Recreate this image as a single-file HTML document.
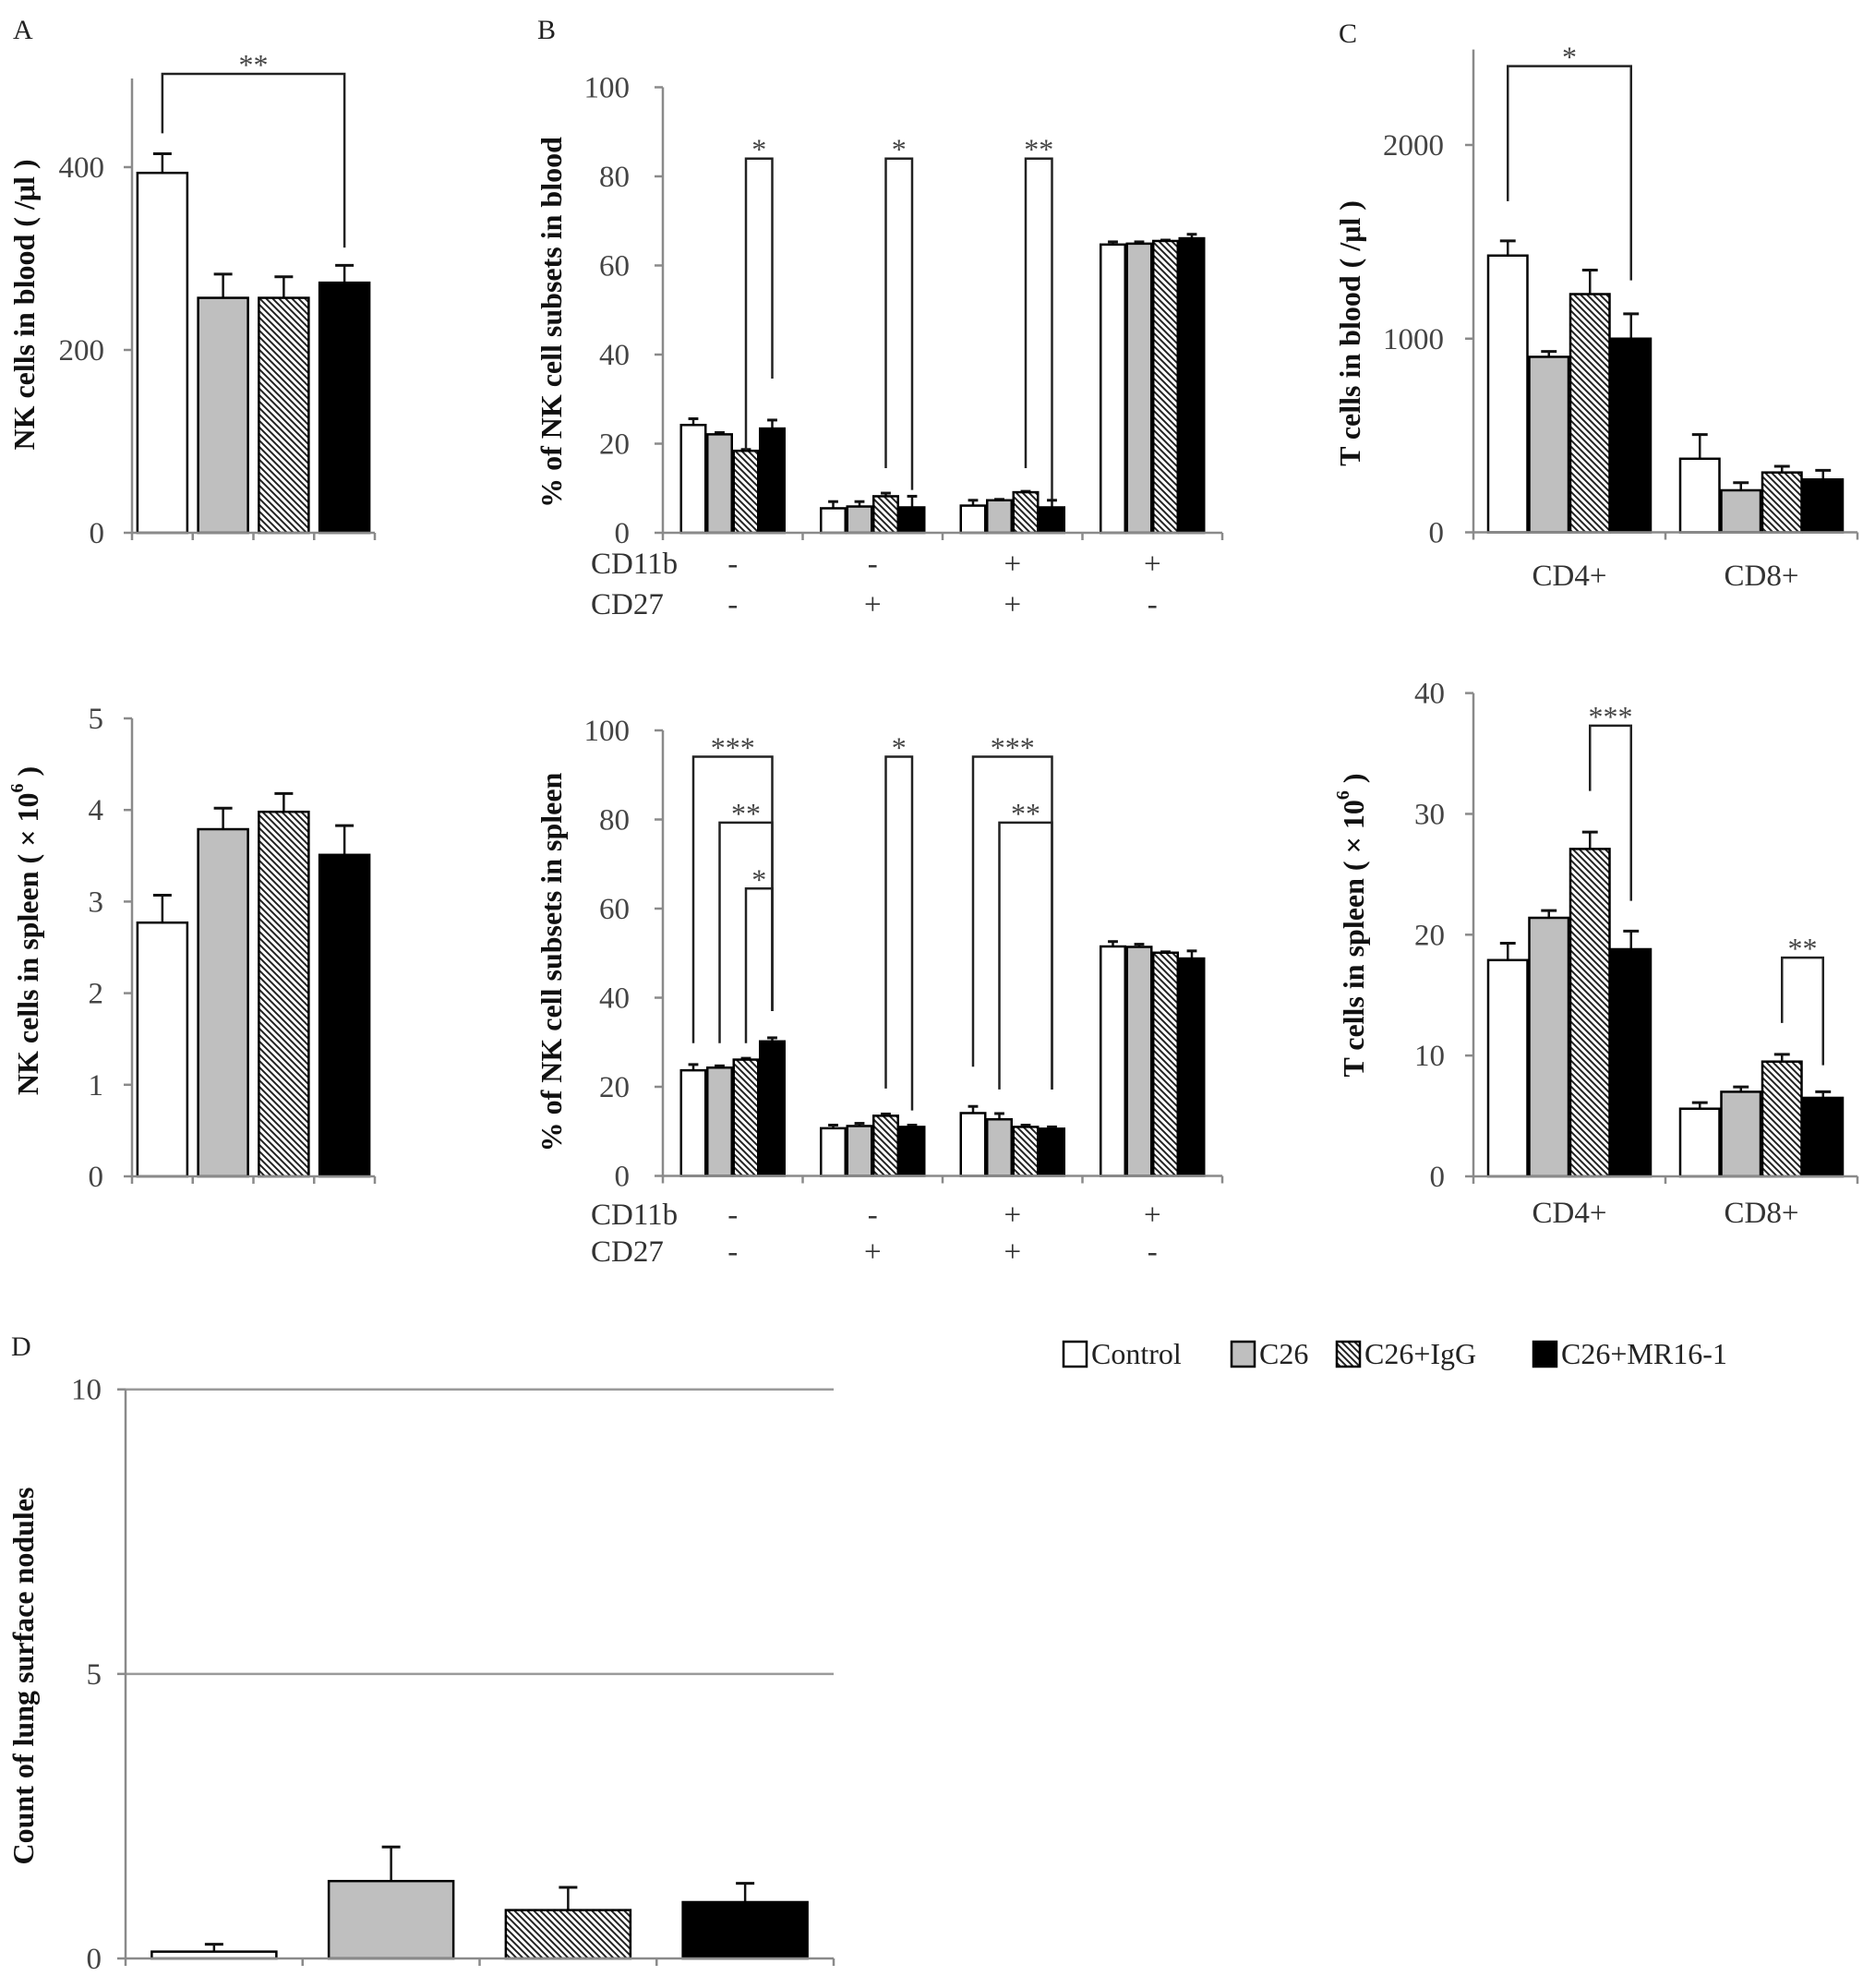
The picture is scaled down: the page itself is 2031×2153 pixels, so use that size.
<!DOCTYPE html>
<html><head><meta charset="utf-8"><style>
html,body{margin:0;padding:0;background:#fff;}
svg{display:block;font-family:"Liberation Serif",serif;}
</style></head><body>
<svg id="fig" xmlns="http://www.w3.org/2000/svg" width="2031" height="2153" viewBox="0 0 2031 2153">
<defs>
<pattern id="hatch" patternUnits="userSpaceOnUse" width="7" height="7">
<rect width="7" height="7" fill="#fff"/>
<path d="M-1,-1 L8,8 M-4.5,2.5 L1.5,8.5 M2.5,-4.5 L8.5,1.5" stroke="#222" stroke-width="2"/>
</pattern>
</defs>
</svg>
<script>
const groupNames = ['Control','C26','C26+IgG','C26+MR16-1'];
const nkBloodValues = [393.7, 257, 257, 273.6];
const nkBloodErr = [21, 26, 23, 19];
const nkSpleenValues = [2.77, 3.79, 3.98, 3.51];
const nkSpleenErr = [0.30, 0.23, 0.20, 0.32];
const cd11bSigns = ['-','-','+','+'];
const cd27Signs = ['-','+','+','-'];
const bloodControl = [24.2, 5.5, 6.1, 64.7];
const bloodControlErr = [1.4, 1.5, 1.2, 0.6];
const bloodC26 = [22.1, 5.9, 7.3, 64.9];
const bloodC26Err = [0.4, 1.1, 0.2, 0.4];
const bloodIgG = [18.4, 8.2, 9.1, 65.5];
const bloodIgGErr = [0.3, 0.7, 0.2, 0.2];
const bloodMR = [23.4, 5.7, 5.7, 66.1];
const bloodMRErr = [1.9, 2.5, 1.6, 0.9];
const spleenControl = [23.7, 10.7, 14.1, 51.5];
const spleenControlErr = [1.3, 0.7, 1.5, 1.1];
const spleenC26 = [24.3, 11.2, 12.7, 51.4];
const spleenC26Err = [0.4, 0.6, 1.3, 0.6];
const spleenIgG = [26.1, 13.5, 11.0, 50.1];
const spleenIgGErr = [0.3, 0.4, 0.4, 0.2];
const spleenMR = [30.2, 11.0, 10.6, 48.8];
const spleenMRErr = [0.8, 0.4, 0.4, 1.7];
const tCats = ['CD4+','CD8+'];
const tBloodControl = [1429, 380];
const tBloodControlErr = [76, 125];
const tBloodC26 = [906, 217];
const tBloodC26Err = [28, 39];
const tBloodIgG = [1230, 309];
const tBloodIgGErr = [124, 32];
const tBloodMR = [1000, 273];
const tBloodMRErr = [128, 47];
const tSpleenControl = [17.9, 5.6];
const tSpleenControlErr = [1.4, 0.5];
const tSpleenC26 = [21.4, 7.0];
const tSpleenC26Err = [0.6, 0.4];
const tSpleenIgG = [27.1, 9.5];
const tSpleenIgGErr = [1.4, 0.6];
const tSpleenMR = [18.8, 6.5];
const tSpleenMRErr = [1.5, 0.5];
const noduleValues = [0.12, 1.36, 0.85, 0.99];
const noduleErr = [0.13, 0.60, 0.40, 0.33];
const ticksA1 = [0, 200, 400];
const ticksA2 = [0, 1, 2, 3, 4, 5];
const ticksB = [0, 20, 40, 60, 80, 100];
const ticksC1 = [0, 1000, 2000];
const ticksC2 = [0, 10, 20, 30, 40];
const ticksD = [0, 5, 10];
const bracketsA1 = [[0,0,3,0,437,502,312,'**']];
const bracketsB1 = [[0,2,0,3,18.6,84,34.6,'*'],[1,2,1,3,14.5,84,9.6,'*'],[2,2,2,3,14.5,84,7.5,'**']];
const bracketsB2 = [[0,0,0,3,29.8,94.1,37,'***'],[0,1,0,3,29.8,79.3,37,'**'],[0,2,0,3,29.8,64.5,37,'*'],[1,2,1,3,19.6,94.1,14.7,'*'],[2,0,2,3,24.5,94.1,19.4,'***'],[2,1,2,3,19.4,79.3,19.4,'**']];
const bracketsC1 = [[0,0,0,3,1710,2407,1301,'*']];
const bracketsC2 = [[0,2,0,3,31.9,37.3,22.8,'***'],[1,2,1,3,12.7,18.1,9.2,'**']];

const NS = 'http://www.w3.org/2000/svg';
const svg = document.getElementById('fig');
const fills = ['#ffffff','#bfbfbf','url(#hatch)','#000000'];
function mk(tag, attrs, parent){
  const e = document.createElementNS(NS, tag);
  for (const k in attrs) e.setAttribute(k, attrs[k]);
  (parent||svg).appendChild(e);
  return e;
}
function txt(s, x, y, size, opts, parent){
  const t = mk('text', Object.assign({x:x, y:y, 'font-size':size, fill:'#333'}, opts||{}), parent);
  t.textContent = s;
  return t;
}
function panel(p){
  const g = mk('g', {});
  
  
  const ys = v => p.y0 - v * (p.y0 - p.yRef) / p.vRef;
  const catW = (p.xEnd - p.x0) / p.nCats;
  const nS = p.series.length;
  const off = (catW - nS * p.barW) / 2;
  const bx = (c, s) => p.x0 + c * catW + off + s * p.barW;
  if (p.grid) {
    p.ticks.forEach(t => { if (t > 0) {
      const gl = mk('line', {x1:p.x0, x2:p.xEnd, y1:ys(t), y2:ys(t), stroke:'#9a9a9a', 'stroke-width':2.5}, g);
      
      
    }});
  }
  const ya = mk('line', {x1:p.x0, x2:p.x0, y1:p.axisTop, y2:p.y0, stroke:'#8a8a8a', 'stroke-width':2.5}, g);
  
  
  p.ticks.forEach(t => {
    mk('line', {x1:p.x0 - 9, x2:p.x0, y1:ys(t), y2:ys(t), stroke:'#8a8a8a', 'stroke-width':2.5}, g);
    const tl = txt(String(t), p.x0 - p.tickGap, ys(t) + 11, 33, {'text-anchor':'end', fill:'#444'}, g);
    
    
  });
  for (let c = 0; c < p.nCats; c++) {
    for (let s = 0; s < nS; s++) {
      const v = p.series[s][c], e = p.errs[s][c];
      const x = bx(c, s), cx = x + p.barW / 2;
      const color = p.single ? fills[c] : fills[s];
      const el = mk('line', {x1:cx, x2:cx, y1:ys(v), y2:ys(v + e), stroke:'#111', 'stroke-width':2.5}, g);
      
      
      const cw = Math.min(p.barW * 0.38, 20);
      mk('line', {x1:cx - cw/2, x2:cx + cw/2, y1:ys(v + e), y2:ys(v + e), stroke:'#111', 'stroke-width':3}, g);
      const r = mk('rect', {x:x + 1, y:ys(v), width:p.barW - 2, height:Math.max(0, p.y0 - ys(v)), fill:color, stroke:'#000', 'stroke-width':2.5}, g);
      
      
    }
  }
  const xa = mk('line', {x1:p.x0, x2:p.xEnd, y1:p.y0, y2:p.y0, stroke:'#8a8a8a', 'stroke-width':2.5}, g);
  
  
  for (let c = 0; c <= p.nCats; c++) {
    mk('line', {x1:p.x0 + c * catW, x2:p.x0 + c * catW, y1:p.y0, y2:p.y0 + 8, stroke:'#8a8a8a', 'stroke-width':2.5}, g);
  }
  (p.brackets || []).forEach(b => {
    const xl = bx(b[0], b[1]) + p.barW / 2, xr = bx(b[2], b[3]) + p.barW / 2;
    const pa = mk('path', {d:'M' + xl + ',' + ys(b[4]) + ' V' + ys(b[5]) + ' H' + xr + ' V' + ys(b[6]), fill:'none', stroke:'#222', 'stroke-width':2.5}, g);
    
    
    const st = txt(b[7], (xl + xr) / 2, ys(b[5]) + 1, 32, {'text-anchor':'middle', fill:'#444'}, g);
    
    
  });
  if (p.catLabels) {
    p.catLabels.forEach((l, c) => {
      const cl = txt(l, p.x0 + (c + 0.5) * catW, p.catY, 33, {'text-anchor':'middle'}, g);
      
      
    });
  }
  if (p.signRows) {
    p.signRows.forEach(row => {
      const rl = txt(row.label, p.signX, row.y, 33, {}, g);
      
      
      row.signs.forEach((sg, c) => {
        const sl = txt(sg, p.x0 + (c + 0.5) * catW, row.y, 33, {'text-anchor':'middle'}, g);
        
        
      });
    });
  }
  const yl = mk('text', {x:p.lx, y:p.ly, 'font-size':32, 'font-weight':'bold', fill:'#111', 'text-anchor':'middle', 'dominant-baseline':'central', transform:'rotate(-90 ' + p.lx + ' ' + p.ly + ')'}, g);
  
  
  yl.innerHTML = p.label;
}

panel({name:'panel-a-blood', x0:143, xEnd:406, y0:577, yRef:181, vRef:400, axisTop:85, ticks:ticksA1, tickGap:30, nCats:4, barW:56, single:true,
  series:[nkBloodValues], errs:[nkBloodErr], brackets:bracketsA1, lx:26, ly:330, label:'NK cells in blood ( /μl )'});
panel({name:'panel-a-spleen', x0:143, xEnd:406, y0:1274, yRef:778, vRef:5, axisTop:778, ticks:ticksA2, tickGap:31, nCats:4, barW:56, single:true,
  series:[nkSpleenValues], errs:[nkSpleenErr], lx:30, ly:1008, label:'NK cells in spleen ( × 10<tspan font-size="20" dy="-11">6</tspan><tspan dy="11"> )</tspan>'});
panel({name:'panel-b-blood', x0:718, xEnd:1324, y0:577, yRef:94.5, vRef:100, axisTop:94.5, ticks:ticksB, tickGap:36, nCats:4, barW:28.5,
  series:[bloodControl, bloodC26, bloodIgG, bloodMR], errs:[bloodControlErr, bloodC26Err, bloodIgGErr, bloodMRErr], brackets:bracketsB1,
  signX:640, signRows:[{label:'CD11b', y:621, signs:cd11bSigns},{label:'CD27', y:665, signs:cd27Signs}], lx:597, ly:349, label:'% of NK cell subsets in blood'});
panel({name:'panel-b-spleen', x0:718, xEnd:1324, y0:1273.5, yRef:791, vRef:100, axisTop:791, ticks:ticksB, tickGap:36, nCats:4, barW:28.5,
  series:[spleenControl, spleenC26, spleenIgG, spleenMR], errs:[spleenControlErr, spleenC26Err, spleenIgGErr, spleenMRErr], brackets:bracketsB2,
  signX:640, signRows:[{label:'CD11b', y:1326, signs:cd11bSigns},{label:'CD27', y:1366, signs:cd27Signs}], lx:597, ly:1042, label:'% of NK cell subsets in spleen'});
panel({name:'panel-c-blood', x0:1596, xEnd:2012, y0:576.5, yRef:157, vRef:2000, axisTop:53.6, ticks:ticksC1, tickGap:32, nCats:2, barW:44.5,
  series:[tBloodControl, tBloodC26, tBloodIgG, tBloodMR], errs:[tBloodControlErr, tBloodC26Err, tBloodIgGErr, tBloodMRErr], brackets:bracketsC1,
  catLabels:tCats, catY:634, lx:1462, ly:361, label:'T cells in blood ( /μl )'});
panel({name:'panel-c-spleen', x0:1596, xEnd:2012, y0:1274, yRef:750.6, vRef:40, axisTop:750.6, ticks:ticksC2, tickGap:31, nCats:2, barW:44.5,
  series:[tSpleenControl, tSpleenC26, tSpleenIgG, tSpleenMR], errs:[tSpleenControlErr, tSpleenC26Err, tSpleenIgGErr, tSpleenMRErr], brackets:bracketsC2,
  catLabels:tCats, catY:1324, lx:1466, ly:1002, label:'T cells in spleen ( × 10<tspan font-size="20" dy="-11">6</tspan><tspan dy="11"> )</tspan>'});
panel({name:'panel-d-nodules', x0:136, xEnd:903, y0:2121, yRef:1504.7, vRef:10, axisTop:1504.7, ticks:ticksD, tickGap:26, nCats:4, barW:137, single:true, grid:true,
  series:[noduleValues], errs:[noduleErr], lx:25, ly:1815, label:'Count of lung surface nodules'});

[['A',14,42],['B',582,42],['C',1450,46],['D',12,1468]].forEach(l => {
  const t = txt(l[0], l[1], l[2], 30, {fill:'#222'});
  
  
});

const legendX = [1152, 1334, 1448, 1661];
const lg = mk('g', {});


groupNames.forEach((n, i) => {
  const b = mk('rect', {x:legendX[i], y:1453, width:25, height:27, fill:fills[i], stroke:'#000', 'stroke-width':2.5}, lg);
  
  
  const t = txt(n, legendX[i] + 30, 1477, 32, {fill:'#222'}, lg);
  
  
});
</script>
</body></html>
